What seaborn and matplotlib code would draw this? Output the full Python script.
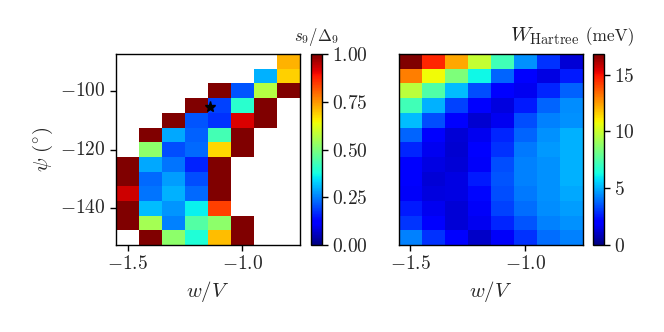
import numpy as np
import pandas as pd
import seaborn as sns
import matplotlib as mpl
import matplotlib.pyplot as plt

sns.set_style("ticks")
mpl.rcParams['font.family'] = ['serif']
mpl.rcParams['font.serif'] = ['cmr10', 'DejaVu Serif']
mpl.rcParams['mathtext.fontset'] = 'cm'
mpl.rcParams['axes.formatter.use_mathtext'] = True
mpl.rcParams['axes.unicode_minus'] = False
mpl.rcParams['xtick.direction'] = 'out'
mpl.rcParams['ytick.direction'] = 'out'

nan = np.nan

# grid axes
w_vals = [-1.5, -1.4, -1.3, -1.2, -1.1, -1.0, -0.9, -0.8]
psi_vals = [-90, -95, -100, -105, -110, -115, -120, -125, -130, -135, -140, -145, -150]

# s9 / Delta9, rows from psi=-90 (top) down to psi=-150
ratio_rows = [
    [nan, nan, nan, nan, nan, nan, nan, 0.72],
    [nan, nan, nan, nan, nan, nan, 0.30, 0.69],
    [nan, nan, nan, nan, 1.00, 0.21, 0.57, 1.00],
    [nan, nan, nan, 1.00, 0.19, 0.40, 1.00, nan],
    [nan, nan, 1.00, 0.21, 0.175, 0.92, 1.00, nan],
    [nan, 1.00, 0.29, 0.22, 0.43, 1.00, nan, nan],
    [nan, 0.52, 0.20, 0.23, 0.68, 1.00, nan, nan],
    [1.00, 0.29, 0.24, 0.16, 1.00, nan, nan, nan],
    [1.00, 0.23, 0.28, 0.20, 1.00, nan, nan, nan],
    [0.93, 0.24, 0.30, 0.23, 1.00, nan, nan, nan],
    [1.00, 0.31, 0.27, 0.36, 0.84, nan, nan, nan],
    [1.00, 0.55, 0.25, 0.45, 0.52, 1.00, nan, nan],
    [nan, 1.00, 0.52, 0.39, 0.71, 1.00, nan, nan],
]

# W_Hartree (meV)
hartree_rows = [
    [16.8, 14.6, 12.3, 9.9, 7.2, 4.5, 2.9, 1.3],
    [13.0, 10.8, 8.4, 6.2, 3.8, 1.9, 1.5, 2.5],
    [9.7, 7.5, 5.2, 3.4, 1.9, 1.7, 2.7, 3.7],
    [7.2, 5.0, 3.2, 1.9, 1.4, 2.5, 3.8, 4.4],
    [5.2, 3.4, 1.9, 1.2, 1.7, 3.4, 4.2, 4.5],
    [3.8, 1.9, 1.3, 1.7, 2.7, 3.8, 4.5, 5.0],
    [2.7, 1.7, 1.2, 1.9, 2.9, 4.1, 4.6, 5.0],
    [1.9, 1.5, 1.3, 1.8, 3.4, 4.2, 4.5, 5.0],
    [1.9, 1.3, 1.5, 2.5, 3.5, 4.2, 4.5, 5.0],
    [1.8, 1.4, 1.5, 2.2, 3.4, 4.1, 4.5, 4.9],
    [2.5, 1.7, 1.3, 1.8, 3.2, 3.9, 4.4, 4.7],
    [3.0, 1.9, 1.3, 1.7, 2.7, 3.5, 4.2, 4.5],
    [4.2, 2.9, 1.9, 1.1, 1.8, 2.9, 3.9, 4.2],
]

star_w, star_psi = -1.14, -105.5

x_ticks = [-1.5, -1.0]
y_ticks = [-100, -120, -140]

ratio_df = pd.DataFrame(ratio_rows, index=psi_vals, columns=w_vals)
hartree_df = pd.DataFrame(hartree_rows, index=psi_vals, columns=w_vals)

dw = w_vals[1] - w_vals[0]
dpsi = psi_vals[0] - psi_vals[1]


def x_idx(w):
    return (w - w_vals[0]) / dw + 0.5


def y_idx(p):
    return (psi_vals[0] - p) / dpsi + 0.5


fig = plt.figure(figsize=(6.64, 3.32), dpi=100)
ax1 = fig.add_axes([0.1747, 0.262, 0.2771, 0.575])
cax1 = fig.add_axes([0.4684, 0.262, 0.0166, 0.575])
ax2 = fig.add_axes([0.6009, 0.262, 0.2771, 0.575])
cax2 = fig.add_axes([0.8931, 0.262, 0.0166, 0.575])

sns.heatmap(ratio_df, ax=ax1, cbar_ax=cax1, cmap='jet', vmin=0, vmax=1)
sns.heatmap(hartree_df, ax=ax2, cbar_ax=cax2, cmap='jet', vmin=0,
            vmax=float(np.max(hartree_rows)))

ax1.plot(x_idx(star_w), y_idx(star_psi), marker='*', color='k', ms=8, ls='none')

for ax in (ax1, ax2):
    for sp in ax.spines.values():
        sp.set_visible(True)
        sp.set_color('k')
        sp.set_linewidth(1.0)
    ax.set_xticks([x_idx(v) for v in x_ticks])
    ax.set_xticklabels([f"${v:.1f}$" for v in x_ticks], rotation=0)
    ax.tick_params(axis='both', labelsize=14, length=4, width=1, color='k')
    ax.set_xlabel(r"$w/V$", fontsize=15)

ax1.set_yticks([y_idx(v) for v in y_ticks])
ax1.set_yticklabels([f"${v}$" for v in y_ticks], rotation=0)
ax1.set_ylabel(r"$\psi\ (^{\circ})$", fontsize=15)
ax2.set_yticks([])
ax2.set_ylabel("")

for ax, cax, ticks, fmt in ((ax1, cax1, [0, 0.25, 0.5, 0.75, 1.0], "${:.2f}$"),
                            (ax2, cax2, [0, 5, 10, 15], "${:d}$")):
    cb = ax.collections[0].colorbar
    cb.outline.set_visible(True)
    cb.outline.set_linewidth(1.0)
    cb.outline.set_edgecolor('k')
    cb.set_ticks(ticks)
    cb.set_ticklabels([fmt.format(t) for t in ticks])
    cax.tick_params(labelsize=14, length=4, width=1, color='k')

fig.text(0.4767, 0.89, r"$s_9/\Delta_9$", ha='center', va='center', fontsize=12)
fig.text(0.873, 0.89, r"$W_{\mathrm{Hartree}}$", ha='right', va='center', fontsize=15)
fig.text(0.873, 0.89, " (meV)", ha='left', va='center', fontsize=12.5)

fig.savefig("out.png", dpi=100)
